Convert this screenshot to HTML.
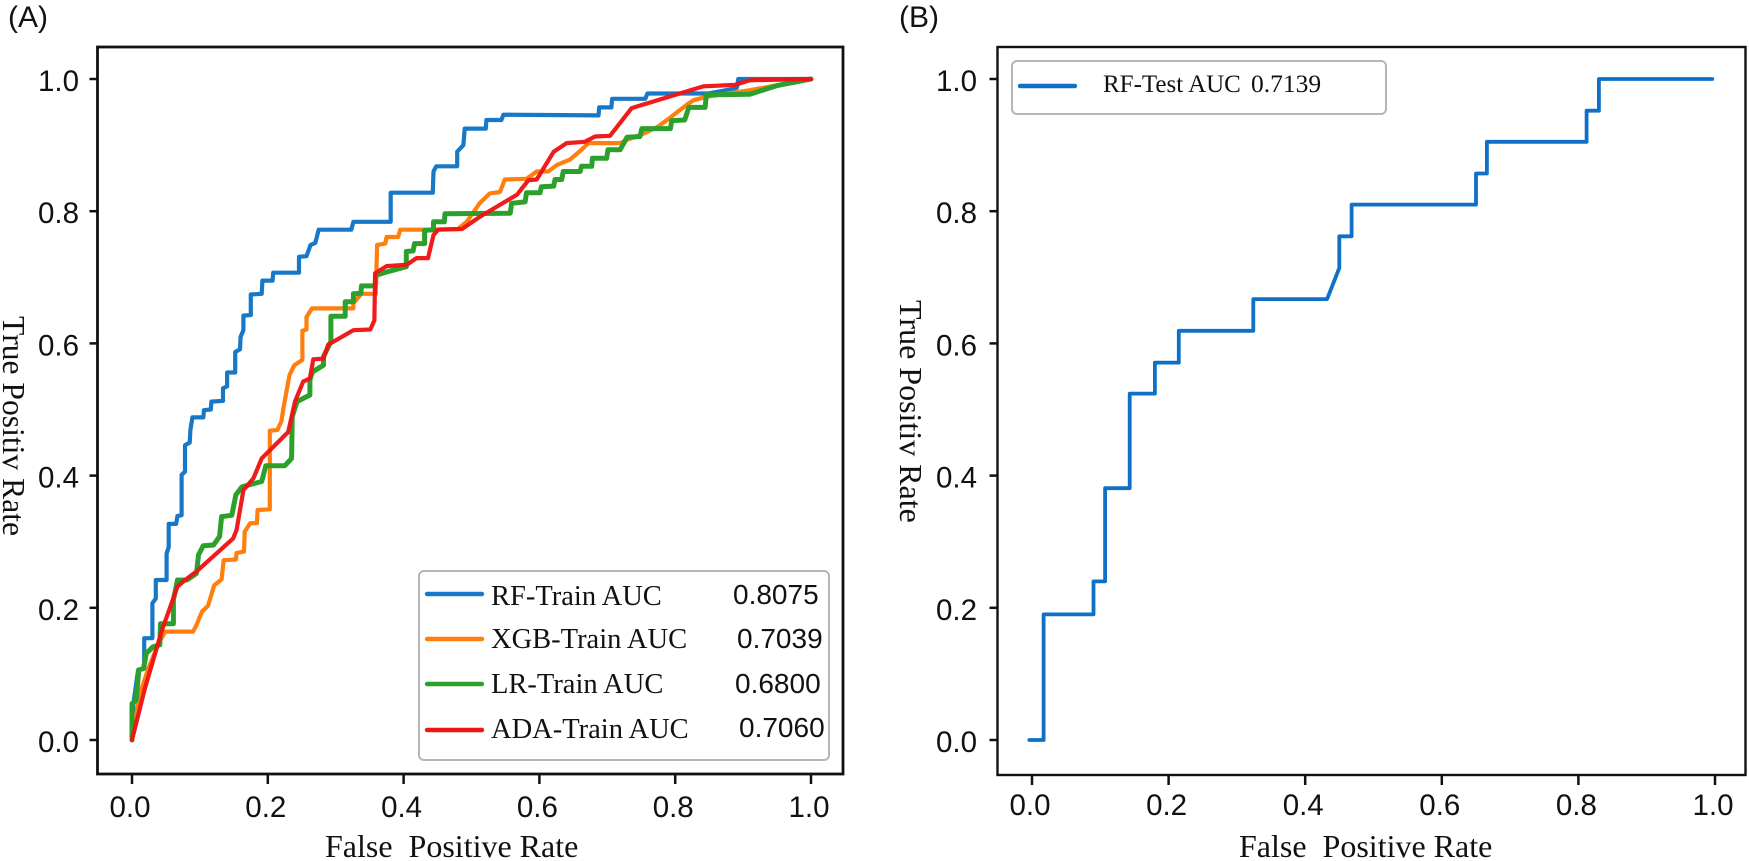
<!DOCTYPE html>
<html lang="en">
<head>
<meta charset="utf-8">
<title>ROC curves</title>
<style>
html,body{margin:0;padding:0;background:#fff;width:1749px;height:861px;overflow:hidden}
svg{display:block}
.sans{font-family:"Liberation Sans",sans-serif;fill:#111}
.serif{font-family:"Liberation Serif",serif;fill:#111;white-space:pre}
</style>
</head>
<body>
<svg id="chart" xmlns="http://www.w3.org/2000/svg" width="1749" height="861" viewBox="0 0 1749 861">
  <rect x="0" y="0" width="1749" height="861" fill="#fff"/>
  <text class="sans" x="8" y="27" font-size="30">(A)</text>
  <text class="sans" x="899" y="27" font-size="30">(B)</text>

  <g id="panelA"></g>
  <g id="panelB"></g>

  <text class="serif" x="325" y="857" font-size="32" xml:space="preserve">False  Positive Rate</text>
  <text class="serif" transform="translate(3,316) rotate(90)" font-size="31.6">True Positiv Rate</text>
  <text class="serif" x="1239" y="857" font-size="32" xml:space="preserve">False  Positive Rate</text>
  <text class="serif" transform="translate(900,300) rotate(90)" font-size="32">True Positiv Rate</text>

  <g>
    <rect x="419" y="571" width="410" height="189" rx="5" fill="#fff" fill-opacity="0.9" stroke="#b4b4bc" stroke-width="2"/>
    <g>
      <line x1="427" y1="594" x2="482" y2="594" stroke="#1878c8" stroke-width="4.4" stroke-linecap="round"/>
      <text class="serif" x="491" y="605" font-size="28.5">RF-Train AUC</text>
      <text class="sans" x="733" y="604" font-size="28">0.8075</text>
    </g>
    <g>
      <line x1="427" y1="639" x2="482" y2="639" stroke="#ff7f0e" stroke-width="4.4" stroke-linecap="round"/>
      <text class="serif" x="491" y="648" font-size="28.5">XGB-Train AUC</text>
      <text class="sans" x="737" y="648" font-size="28">0.7039</text>
    </g>
    <g>
      <line x1="427" y1="684" x2="482" y2="684" stroke="#2ca02c" stroke-width="4.4" stroke-linecap="round"/>
      <text class="serif" x="491" y="693" font-size="28.5">LR-Train AUC</text>
      <text class="sans" x="735" y="693" font-size="28">0.6800</text>
    </g>
    <g>
      <line x1="427" y1="730" x2="482" y2="730" stroke="#f01414" stroke-width="4.4" stroke-linecap="round"/>
      <text class="serif" x="491" y="738" font-size="28.5">ADA-Train AUC</text>
      <text class="sans" x="739" y="737" font-size="28">0.7060</text>
    </g>
  </g>

  <g>
    <rect x="1012" y="61" width="374" height="53" rx="5" fill="#fff" stroke="#b4b4bc" stroke-width="2"/>
    <line x1="1020" y1="86" x2="1075" y2="86" stroke="#0f70c8" stroke-width="4.4" stroke-linecap="round"/>
    <text class="serif" x="1103" y="92" font-size="25">RF-Test AUC</text>
    <text class="serif" x="1251" y="92" font-size="25.5">0.7139</text>
  </g>
</svg>
<script>
// Tick labels
const xTickValues = [0, 0.2, 0.4, 0.6, 0.8, 1.0];
const yTickValues = [0, 0.2, 0.4, 0.6, 0.8, 1.0];

// RF-Train
const rfTrainFpr = [0,.002,.009,.018,.018,.030,.030,.035,.035,.051,.051,.054,.054,.065,.067,.073,.073,.078,.078,.085,.086,.089,.105,.106,.116,.117,.134,.134,.140,.140,.152,.152,.159,.160,.164,.164,.175,.175,.191,.192,.207,.208,.246,.246,.257,.263,.270,.275,.323,.326,.381,.381,.443,.444,.448,.479,.479,.488,.490,.521,.522,.544,.547,.687,.688,.706,.707,.756,.759,.849,.885,.891,.893,1];
const rfTrainTpr = [0,.055,.106,.108,.154,.154,.207,.214,.242,.242,.282,.292,.327,.327,.339,.340,.401,.406,.446,.450,.469,.488,.488,.499,.500,.512,.513,.532,.535,.556,.556,.587,.591,.610,.620,.642,.643,.674,.675,.695,.695,.707,.707,.731,.732,.749,.752,.772,.772,.784,.784,.828,.828,.860,.868,.868,.890,.900,.925,.925,.938,.938,.946,.945,.957,.957,.970,.970,.978,.978,.985,.987,1,1];

// XGB-Train
const xgbTrainFpr = [0,.012,.024,.039,.049,.090,.095,.103,.112,.121,.132,.135,.153,.154,.165,.166,.174,.184,.185,.203,.203,.214,.220,.223,.232,.239,.251,.251,.257,.257,.265,.326,.326,.338,.359,.361,.373,.375,.392,.395,.429,.480,.493,.512,.527,.542,.549,.581,.596,.613,.626,.645,.662,.672,.719,.729,.748,.773,.788,.817,.827,.846,.910,1];
const xgbTrainTpr = [0,.071,.108,.146,.164,.164,.174,.194,.203,.234,.243,.272,.273,.283,.285,.315,.328,.328,.348,.349,.468,.469,.482,.502,.552,.567,.575,.619,.621,.640,.653,.653,.661,.675,.675,.749,.751,.761,.761,.772,.772,.773,.784,.812,.827,.829,.848,.849,.860,.860,.870,.878,.893,.903,.903,.908,.915,.927,.938,.961,.968,.973,.983,1];

// LR-Train
const lrTrainFpr = [0,0,.006,.010,.017,.021,.031,.041,.042,.061,.061,.067,.081,.095,.098,.105,.120,.129,.132,.147,.153,.162,.191,.197,.225,.235,.236,.243,.262,.262,.266,.282,.282,.293,.293,.314,.314,.326,.326,.337,.338,.358,.359,.378,.404,.404,.414,.416,.431,.431,.444,.444,.460,.461,.557,.559,.579,.581,.601,.603,.621,.623,.633,.635,.660,.662,.677,.678,.699,.701,.719,.729,.748,.751,.793,.795,.814,.820,.844,.846,.910,.950,1];
const lrTrainTpr = [0,.055,.060,.106,.108,.131,.141,.144,.176,.176,.212,.242,.242,.252,.280,.294,.295,.308,.338,.340,.371,.383,.391,.415,.415,.426,.489,.512,.522,.545,.557,.567,.580,.603,.641,.641,.663,.663,.675,.676,.687,.687,.703,.709,.716,.739,.740,.751,.751,.771,.772,.784,.784,.796,.797,.812,.814,.828,.828,.837,.838,.848,.848,.860,.860,.868,.868,.880,.880,.893,.893,.912,.913,.925,.925,.937,.938,.957,.957,.976,.977,.990,1];

// ADA-Train
const adaTrainFpr = [0,.019,.044,.067,.078,.095,.149,.154,.164,.179,.191,.230,.240,.252,.262,.267,.282,.289,.326,.351,.357,.358,.375,.405,.419,.436,.444,.451,.486,.513,.567,.584,.596,.621,.640,.667,.682,.704,.736,.800,.842,.888,.910,1];
const adaTrainTpr = [0,.078,.166,.232,.242,.255,.305,.318,.378,.396,.426,.466,.512,.542,.547,.576,.577,.598,.620,.621,.635,.706,.717,.719,.729,.729,.764,.772,.773,.792,.825,.847,.848,.890,.903,.905,.913,.914,.956,.976,.989,.991,.998,1];

// RF-Test
const rfTestFpr = [-.004,.017,.017,.090,.090,.107,.107,.143,.143,.180,.180,.215,.215,.324,.324,.432,.450,.450,.468,.468,.650,.650,.666,.666,.812,.812,.830,.830,.996];
const rfTestTpr = [0,0,.190,.190,.240,.240,.381,.381,.524,.524,.571,.571,.619,.619,.667,.667,.714,.762,.762,.810,.810,.857,.857,.905,.905,.952,.952,1,1];

const SVGNS = 'http://www.w3.org/2000/svg';

function xScaleA(v){ return 132 + 679 * v; }
function yScaleA(v){ return 740 - 661 * v; }
function xScaleB(v){ return 1032 + 683 * v; }
function yScaleB(v){ return 740 - 661 * v; }

function make(tag, parent, attrs){
  const el = document.createElementNS(SVGNS, tag);
  for (const k in attrs) el.setAttribute(k, attrs[k]);
  parent.appendChild(el);
  return el;
}

function drawCurve(parent, name, fpr, tpr, sx, sy, color, width, opacity){
  const pts = fpr.map(function(f, i){ return sx(f).toFixed(1) + ',' + sy(tpr[i]).toFixed(1); }).join(' ');
  const el = make('polyline', parent, {points: pts, fill: 'none', stroke: color, 'stroke-width': width, 'stroke-linejoin': 'round', 'stroke-linecap': 'round', opacity: opacity});
  
  
}

function drawAxes(parent, prefix, box, sx, sy, labelRight, xLabelY, spineW){
  xTickValues.forEach(function(t){
    const x = sx(t);
    const tick = make('line', parent, {x1: x, x2: x, y1: box.b, y2: box.b + 10, stroke: '#111', 'stroke-width': 2.5});
    
    
    const label = make('text', parent, {x: x - 2, y: xLabelY, 'text-anchor': 'middle', 'font-size': 29.5, 'class': 'sans'});
    
    
    label.textContent = t.toFixed(1);
  });
  yTickValues.forEach(function(t){
    const y = sy(t);
    const tick = make('line', parent, {x1: box.l - 8, x2: box.l, y1: y, y2: y, stroke: '#111', 'stroke-width': 2.5});
    
    
    const label = make('text', parent, {x: labelRight, y: y + 12, 'text-anchor': 'end', 'font-size': 29.5, 'class': 'sans'});
    
    
    label.textContent = t.toFixed(1);
  });
  const frame = make('rect', parent, {x: box.l, y: box.t, width: box.r - box.l, height: box.b - box.t, fill: 'none', stroke: '#111', 'stroke-width': spineW});
  
  
}

const panelA = document.getElementById('panelA');
const panelB = document.getElementById('panelB');

drawAxes(panelA, 'panel-a', {l: 97.5, r: 843, t: 47, b: 774}, xScaleA, yScaleA, 79, 817, 2.8);
drawCurve(panelA, 'rf-train-curve', rfTrainFpr, rfTrainTpr, xScaleA, yScaleA, '#1878c8', 4.2, 1);
drawCurve(panelA, 'xgb-train-curve', xgbTrainFpr, xgbTrainTpr, xScaleA, yScaleA, '#ff7f0e', 4.2, 1);
drawCurve(panelA, 'lr-train-curve', lrTrainFpr, lrTrainTpr, xScaleA, yScaleA, '#2ca02c', 5, 1);
drawCurve(panelA, 'ada-train-curve', adaTrainFpr, adaTrainTpr, xScaleA, yScaleA, '#f01414', 4.2, 0.97);

drawAxes(panelB, 'panel-b', {l: 997.5, r: 1745.5, t: 47, b: 775}, xScaleB, yScaleB, 977, 815, 2.4);
drawCurve(panelB, 'rf-test-curve', rfTestFpr, rfTestTpr, xScaleB, yScaleB, '#0f70c8', 3.8, 1);
</script>
</body>
</html>
